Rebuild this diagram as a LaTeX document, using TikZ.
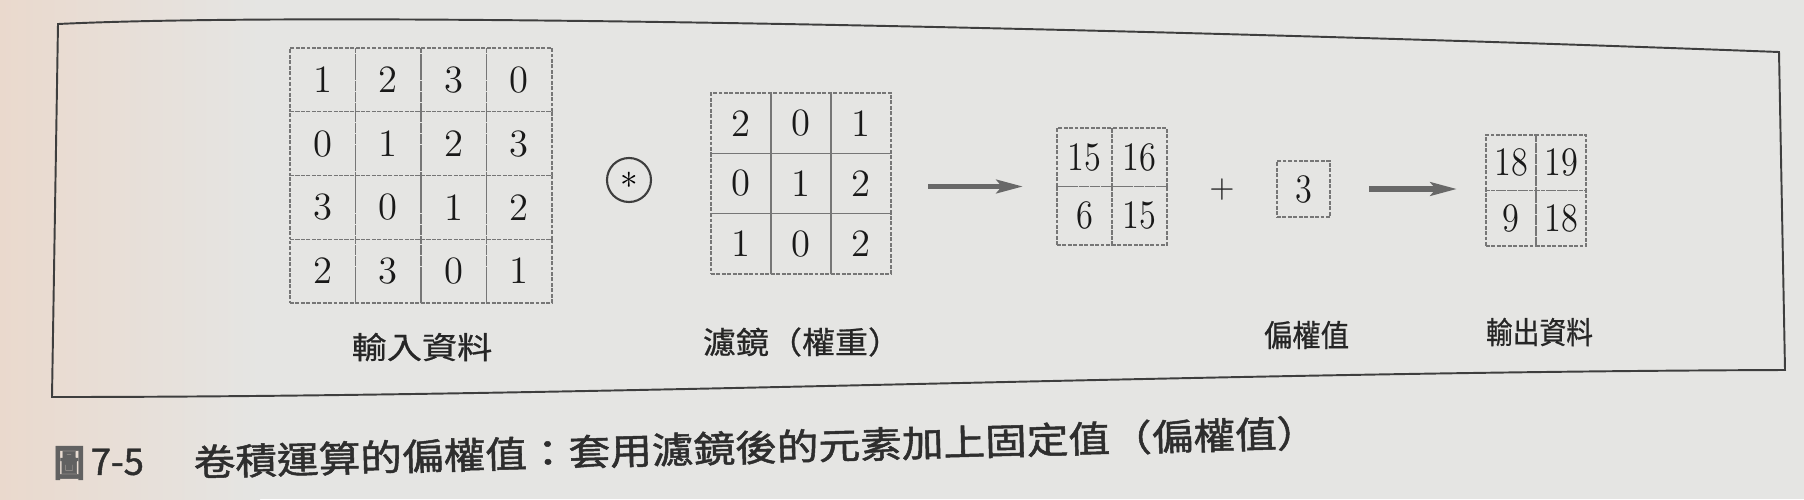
\documentclass[tikz,border=0pt]{standalone}
\usepackage{fontspec}
\usepackage{graphicx}
\usepackage{amsmath,amssymb}
\usetikzlibrary{arrows.meta}
\newfontfamily\cjk[FakeBold=0.7]{Noto Sans CJK TC}
\newfontfamily\cjkcap[FakeBold=1.3]{Noto Sans CJK TC}
\definecolor{paper}{RGB}{229,229,227}
\definecolor{paperwarm}{RGB}{234,217,205}
\definecolor{gridgray}{RGB}{118,118,118}
\definecolor{inkgray}{RGB}{62,62,62}
\definecolor{arrowgray}{RGB}{104,104,104}
\newcommand{\slim}[1]{\scalebox{0.85}[1]{#1}}

\begin{document}
\begin{tikzpicture}[y=-1cm,
  cell/.style={draw=gridgray, dash pattern=on 1.1pt off 0.45pt, line width=0.35pt,
    inner sep=0pt, outer sep=0pt, text=black!90, font=\fontsize{11}{13}\selectfont},
  incell/.style={cell, minimum width=0.655cm, minimum height=0.6375cm},
  filtcell/.style={cell, minimum width=0.6cm, minimum height=0.603cm},
  rescell/.style={cell, minimum width=0.55cm, minimum height=0.585cm, font=\fontsize{11.5}{13}\selectfont},
  biascell/.style={cell, minimum width=0.53cm, minimum height=0.56cm, font=\fontsize{11.5}{13}\selectfont},
  outcell/.style={cell, minimum width=0.5cm, minimum height=0.555cm, font=\fontsize{11.5}{13}\selectfont},
  tag/.style={inner sep=0pt, text=black!85, font=\cjk\fontsize{8.7}{10}\selectfont},
  caption/.style={inner sep=0pt, text=black!82, font=\cjkcap\fontsize{10.4}{12}\selectfont},
  arrowline/.style={draw=arrowgray, line width=1.7pt, -{Stealth[length=7.5pt,width=3.8pt,inset=1.5pt]}}]

\useasboundingbox (0,0) rectangle (18.04,4.99);

% paper:
\fill[paper] (0,0) rectangle (18.04,4.99);
\shade[left color=paperwarm, right color=paper] (0,0) rectangle (2.6,4.99);

% frame:
\draw[inkgray, line width=0.55pt] (0.58,0.24) .. controls (3.5,0.10) and (12,0.30) .. (17.79,0.52)
  -- (17.85,3.70) .. controls (12,3.72) and (6,3.97) .. (0.52,3.97) -- cycle;

% input data:
\node[incell] (i11) at (3.2275,0.79875) {1};
\node[incell] (i12) at (3.8825,0.79875) {2};
\node[incell] (i13) at (4.5375,0.79875) {3};
\node[incell] (i14) at (5.1925,0.79875) {0};
\node[incell] (i21) at (3.2275,1.43625) {0};
\node[incell] (i22) at (3.8825,1.43625) {1};
\node[incell] (i23) at (4.5375,1.43625) {2};
\node[incell] (i24) at (5.1925,1.43625) {3};
\node[incell] (i31) at (3.2275,2.07375) {3};
\node[incell] (i32) at (3.8825,2.07375) {0};
\node[incell] (i33) at (4.5375,2.07375) {1};
\node[incell] (i34) at (5.1925,2.07375) {2};
\node[incell] (i41) at (3.2275,2.71125) {2};
\node[incell] (i42) at (3.8825,2.71125) {3};
\node[incell] (i43) at (4.5375,2.71125) {0};
\node[incell] (i44) at (5.1925,2.71125) {1};
\node[tag] (inlabel) at (4.22,3.47) {\scalebox{1.15}[1]{輸入資料}};

% convolution sign:
\node[draw=inkgray, circle, line width=0.6pt, minimum size=0.44cm, inner sep=0pt,
  font=\fontsize{10}{12}\selectfont] (conv) at (6.29,1.80) {$*$};

% filter:
\node[filtcell] (f11) at (7.41,1.2315) {2};
\node[filtcell] (f12) at (8.01,1.2315) {0};
\node[filtcell] (f13) at (8.61,1.2315) {1};
\node[filtcell] (f21) at (7.41,1.8345) {0};
\node[filtcell] (f22) at (8.01,1.8345) {1};
\node[filtcell] (f23) at (8.61,1.8345) {2};
\node[filtcell] (f31) at (7.41,2.4375) {1};
\node[filtcell] (f32) at (8.01,2.4375) {0};
\node[filtcell] (f33) at (8.61,2.4375) {2};
\node[tag] (filtlabel) at (8.02,3.42) {\scalebox{1.08}[1]{濾鏡（權重）}};

% result of the filter:
\node[rescell] (r11) at (10.845,1.5725) {\slim{15}};
\node[rescell] (r12) at (11.395,1.5725) {\slim{16}};
\node[rescell] (r21) at (10.845,2.1575) {\slim{6}};
\node[rescell] (r22) at (11.395,2.1575) {\slim{15}};

\draw[arrowline, shorten <=3.7mm, shorten >=3.4mm] (f23.east |- r11.south) -- (r11.south west);

% bias:
\node[text=black!85, font=\fontsize{9}{10}\selectfont] (plus) at (12.22,1.90) {$+$};
\node[biascell] (bias) at (13.035,1.89) {\slim{3}};
\node[tag] (biaslabel) at (13.065,3.35) {\scalebox{0.93}[1]{偏權值}};

% output data:
\node[outcell] (o11) at (15.11,1.6275) {\slim{18}};
\node[outcell] (o12) at (15.61,1.6275) {\slim{19}};
\node[outcell] (o21) at (15.11,2.1825) {\slim{9}};
\node[outcell] (o22) at (15.61,2.1825) {\slim{18}};
\node[tag] (outlabel) at (15.395,3.32) {\scalebox{0.875}[1]{輸出資料}};

\draw[arrowline, shorten <=3.9mm, shorten >=2.9mm] (bias.east) -- (bias.east -| o11.west);

% caption:
\node[caption, anchor=west, text=black!62, font=\cjkcap\bfseries\fontsize{10.4}{12}\selectfont] (figmark) at (0.53,4.63) {\scalebox{0.85}[1]{圖}};
\node[caption, anchor=west] (fignum) at (0.90,4.62) {7-5};
\node[caption, anchor=west, rotate=1.5] (captext) at (1.93,4.62)
  {\scalebox{1.14}[1]{卷積運算的偏權值：套用濾鏡後的元素加上固定值（偏權值）}};

\end{tikzpicture}
\end{document}
